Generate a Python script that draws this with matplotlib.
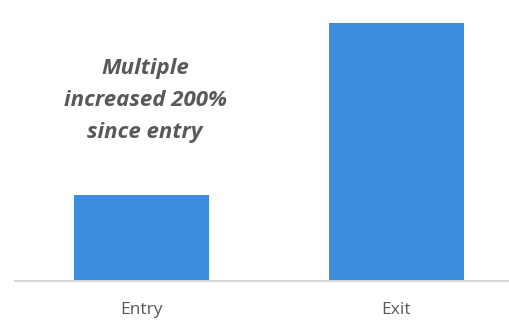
import matplotlib.pyplot as plt

categories = ['Entry', 'Exit']
multiples = [1.0, 3.0]
note = 'Multiple\nincreased 200%\nsince entry'

plt.rcParams['font.family'] = ['Open Sans', 'DejaVu Sans']

fig = plt.figure(figsize=(5.1, 3.2), dpi=100)
ax = fig.add_axes([0.0294, 0.1219, 0.9706, 0.8781])

ax.bar(range(len(categories)), multiples, width=0.53, color='#3c8ddd')

ax.set_xlim(-0.496, 1.445)
ax.set_ylim(0, 3.267)
ax.set_xticks(range(len(categories)))
ax.set_xticklabels(categories, fontsize=12.5, color='#595959')
ax.tick_params(axis='x', length=0, pad=15)
ax.set_yticks([])

for side in ['top', 'right', 'left']:
    ax.spines[side].set_visible(False)
ax.spines['bottom'].set_color('#d9d9d9')
ax.spines['bottom'].set_linewidth(1.5)

# callout above the entry bar
ax.text(0.014, 2.1, note, ha='center', va='center', fontsize=16,
        fontweight='bold', fontstyle='italic', color='#595959',
        linespacing=1.7)

fig.savefig('out.png', dpi=100)
